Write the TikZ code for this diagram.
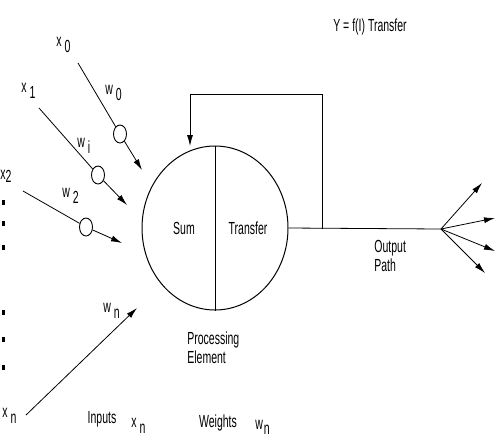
\documentclass[tikz,border=0pt]{standalone}
\usepackage{fontspec}
\setmainfont[FakeStretch=0.6]{Liberation Sans}
\usepackage{tikz}
\usetikzlibrary{arrows.meta,shapes.geometric}
\newcommand{\vlab}[2]{#1\hspace{3pt}\raisebox{-6pt}{#2}}
\tikzset{
  lbl/.style={inner sep=0pt,font=\fontsize{17.5}{19}\selectfont},
  var/.style={lbl,anchor=base west},
  wcirc/.style={draw,ellipse,line width=0.9pt,minimum width=13pt,minimum height=18pt,inner sep=0pt},
  arr/.style={line width=0.8pt,-{Latex[length=11pt,width=6pt]}}
}

\begin{document}
\begin{tikzpicture}[x=1pt,y=-1pt,line width=0.8pt]
\useasboundingbox (0,0) rectangle (497,440);
\node[draw,ellipse,line width=1pt,minimum width=146pt,minimum height=164pt,inner sep=0pt] (pe) at (215,228) {};
\draw (pe.north) -- (pe.south);
\node[lbl] (sum) at (184,228) {Sum};
\node[lbl] (transfer) at (248,228) {Transfer};
\node[lbl] (yfun) at (370,27) {Y = f(I) Transfer};
\coordinate (split) at (441,229);
\coordinate (tap) at (322,229);
\coordinate (fbtop) at (322,94);
\coordinate (fbin) at (190,146);
\draw (pe.east) -- (split);
\draw[arr] (tap) -- (fbtop) -| (fbin);
\coordinate (o1) at (482,183);
\coordinate (o2) at (495,218);
\coordinate (o3) at (495,251);
\coordinate (o4) at (485,273);
\foreach \o in {o1,o2,o3,o4} \draw[arr] (split) -- (\o);
\node[lbl,align=left,anchor=west] (outpath) at (374,256) {Output\\Path};
\node[lbl,align=left,anchor=west] (procel) at (187,348) {Processing\\Element};
\coordinate (s0) at (78,63);
\coordinate (s1) at (39,108);
\coordinate (s2) at (23,191);
\coordinate (sn) at (26,415);
\node[wcirc] (c0) at (120,134) {};
\node[wcirc] (c1) at (98,175) {};
\node[wcirc] (c2) at (86,227) {};
\coordinate (t0) at (142,170);
\coordinate (t1) at (127,205);
\coordinate (t2) at (122,243);
\coordinate (tn) at (137,308);
\draw (s0) -- (c0);
\draw[arr] (c0) -- (t0);
\draw (s1) -- (c1);
\draw[arr] (c1) -- (t1);
\draw (s2) -- (c2);
\draw[arr] (c2) -- (t2);
\draw[arr] (sn) -- (tn);
\node[var] (x0) at (56,46) {\vlab{x}{0}};
\node[var] (x1) at (21,92) {\vlab{x}{1}};
\node[var] (x2) at (0,179) {x\raisebox{-3pt}{2}};
\node[var] (xn) at (2,417) {\vlab{x}{n}};
\node[var] (w0) at (105,94) {\vlab{w}{0}};
\node[var] (wi) at (77,147) {\vlab{w}{i}};
\node[var] (w2) at (62,197) {\vlab{w}{2}};
\node[var] (wn) at (103,312) {\vlab{w}{n}};
\foreach \y in {202,223,247,312,339,367} \fill (1.5,\y-2) rectangle ++(3.5,4.5);
\node[lbl] (inputs) at (102,419) {Inputs};
\node[var] (xlab) at (131,427) {\vlab{x}{n}};
\node[lbl] (weights) at (218,423) {Weights};
\node[var] (wlab) at (255,429) {w\hspace{1pt}\raisebox{-5pt}{n}};
\end{tikzpicture}
\end{document}
